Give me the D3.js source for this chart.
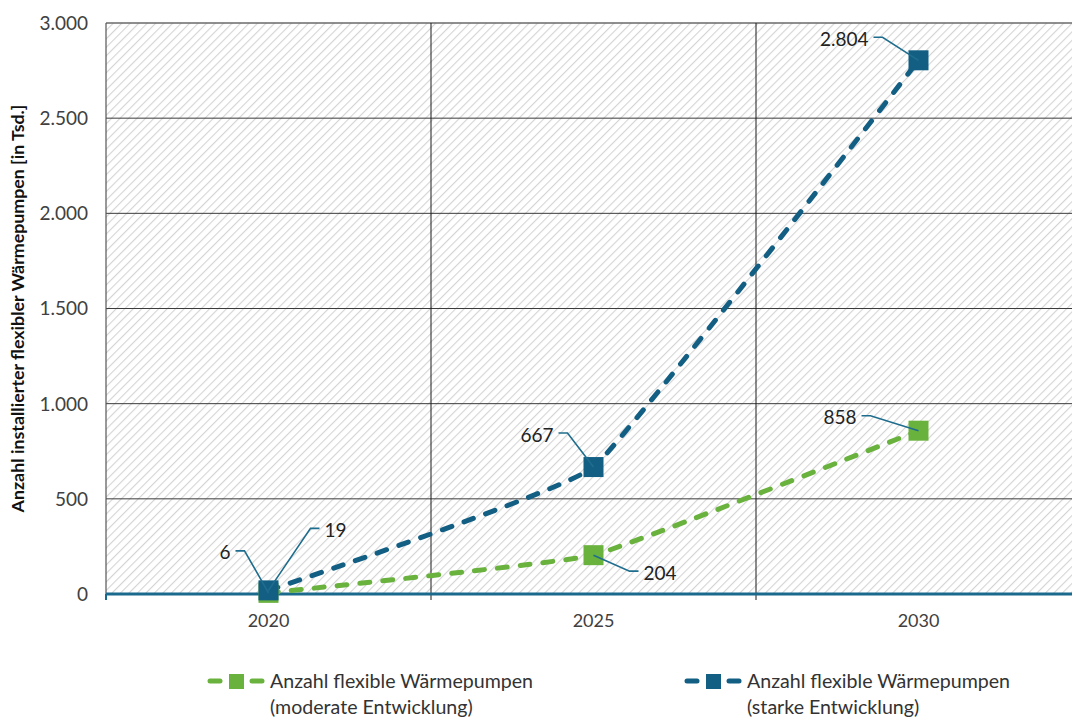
<!DOCTYPE html>
<html>
<head>
<meta charset="utf-8">
<script src="https://cdn.jsdelivr.net/npm/d3@7"></script>
<style>
  html, body { margin: 0; padding: 0; background: #fff; }
  svg { display: block; font-family: Lato, "Open Sans", sans-serif; }
</style>
</head>
<body>
<svg id="chart" width="1072" height="718"></svg>
<script>
// Jahre und Werte (in Tsd.)
const years = ["2020", "2025", "2030"];
const moderate = [6, 204, 858];
const starke = [19, 667, 2804];
const yTicks = [0, 500, 1000, 1500, 2000, 2500, 3000];
const seriesNames = [
  ["Anzahl flexible Wärmepumpen", "(moderate Entwicklung)"],
  ["Anzahl flexible Wärmepumpen", "(starke Entwicklung)"]
];
const yTitle = "Anzahl installierter flexibler Wärmepumpen [in Tsd.]";

const GREEN = "#6ab23e";
const BLUE = "#135f84";
const LEADER = "#1f6d8e";

const svg = d3.select("#chart");
const W = 1072, H = 718;
const m = { left: 106, top: 23, right: 1081, bottom: 594 };

const x = d3.scaleBand().domain(years).range([m.left, m.right]).padding(0);
const y = d3.scaleLinear().domain([0, 3000]).range([m.bottom, m.top]);
const cx = d => x(d) + x.bandwidth() / 2;

// Schraffierter Hintergrund des Diagrammbereichs
const defs = svg.append("defs");
const pat = defs.append("pattern")
  .attr("id", "hatch").attr("patternUnits", "userSpaceOnUse")
  .attr("width", 6).attr("height", 6)
  .attr("patternTransform", "rotate(45)");
pat.append("rect").attr("width", 6).attr("height", 6).attr("fill", "#fff");
pat.append("line").attr("x1", 0).attr("y1", 0).attr("x2", 0).attr("y2", 6)
  .attr("stroke", "#d4d4d4").attr("stroke-width", 2.2);

svg.append("rect")
  .attr("x", m.left).attr("y", m.top)
  .attr("width", W - m.left).attr("height", m.bottom - m.top)
  .attr("fill", "url(#hatch)");

// Horizontale Gitterlinien
svg.append("g").selectAll("line").data(yTicks.filter(t => t > 0)).join("line")
  .attr("x1", m.left).attr("x2", W)
  .attr("y1", d => y(d)).attr("y2", d => y(d))
  .attr("stroke", d => d === 3000 ? "#6a6a6a" : "#3c3c3c")
  .attr("stroke-width", d => d === 3000 ? 1.5 : 1);

// Vertikale Gitterlinien an den Kategoriegrenzen
const bounds = years.slice(1).map(yr => x(yr));
svg.append("g").selectAll("line").data(bounds).join("line")
  .attr("x1", d => d).attr("x2", d => d)
  .attr("y1", m.top).attr("y2", m.bottom + 6)
  .attr("stroke", "#1a1a1a").attr("stroke-width", 1);

// Linke Achsenlinie
svg.append("line")
  .attr("x1", m.left).attr("x2", m.left)
  .attr("y1", m.top).attr("y2", m.bottom)
  .attr("stroke", "#555").attr("stroke-width", 1.2);

// Y-Achse (Beschriftung)
const yAxis = d3.axisLeft(y).tickValues(yTicks).tickSize(0).tickPadding(0)
  .tickFormat(d => d3.format(",")(d).replace(/,/g, "."));
const yg = svg.append("g").attr("transform", `translate(${m.left - 18},0)`).call(yAxis);
yg.select(".domain").remove();
yg.selectAll("text").attr("font-size", 19).attr("fill", "#404040")
  .attr("font-family", "Lato, sans-serif").attr("dy", "0.34em");

// X-Achse
const xAxis = d3.axisBottom(x).tickSize(0).tickPadding(20);
const xg = svg.append("g").attr("transform", `translate(0,${m.bottom})`).call(xAxis);
xg.select(".domain").remove();
xg.selectAll("text").attr("font-size", 18).attr("fill", "#404040")
  .attr("font-family", "Lato, sans-serif");

// Nulllinie in Blau
svg.append("line")
  .attr("x1", m.left).attr("x2", W)
  .attr("y1", y(0)).attr("y2", y(0))
  .attr("stroke", "#1a6a8e").attr("stroke-width", 3);
svg.append("line")
  .attr("x1", m.left).attr("x2", m.left)
  .attr("y1", y(0)).attr("y2", y(0) + 6)
  .attr("stroke", "#1a6a8e").attr("stroke-width", 2);

// Y-Achsentitel
svg.append("text")
  .attr("transform", `translate(24,${(m.top + m.bottom) / 2}) rotate(-90)`)
  .attr("text-anchor", "middle")
  .attr("font-size", 17.8).attr("font-weight", "bold").attr("fill", "#111")
  .text(yTitle);

// Datenreihen
const series = [
  { values: moderate, color: GREEN },
  { values: starke, color: BLUE }
];
const line = d3.line()
  .x((d, i) => cx(years[i]))
  .y(d => y(d))
  .curve(d3.curveCardinal.tension(0.72));

series.forEach(s => {
  svg.append("path")
    .attr("d", line(s.values))
    .attr("fill", "none").attr("stroke", s.color)
    .attr("stroke-width", 5)
    .attr("stroke-dasharray", "10,13")
    .attr("stroke-linecap", "round");
});
series.forEach(s => {
  svg.append("g").selectAll("rect").data(s.values).join("rect")
    .attr("x", (d, i) => cx(years[i]) - 10)
    .attr("y", d => y(d) - 10)
    .attr("width", 20).attr("height", 20)
    .attr("fill", s.color);
});

// Datenbeschriftungen mit Führungslinien
// [Reihe, Index, Textversatz x, Textversatz y, Ausrichtung]
const labelLayout = [
  [0, 0, -38, -40, "end"],
  [1, 0, 56, -60, "start"],
  [1, 1, -40, -32, "end"],
  [0, 1, 50, 18, "start"],
  [1, 2, -50, -21, "end"],
  [0, 2, -62, -13, "end"]
];
const fmt = v => d3.format(",")(v).replace(/,/g, ".");
const lab = svg.append("g");
labelLayout.forEach(([si, i, dx, dy, anchor]) => {
  const v = series[si].values[i];
  const px = cx(years[i]), py = y(v);
  const tx = px + dx, ty = py + dy;
  const side = anchor === "end" ? 1 : -1;
  const hx0 = tx + side * 5, hx1 = tx + side * 14;
  lab.append("path")
    .attr("d", `M${hx0},${ty - 2}L${hx1},${ty - 2}L${px},${py}`)
    .attr("fill", "none").attr("stroke", LEADER).attr("stroke-width", 1.6);
  lab.append("text")
    .attr("x", tx).attr("y", ty).attr("dy", "0.34em")
    .attr("text-anchor", anchor)
    .attr("font-size", 19).attr("fill", "#222")
    .text(fmt(v));
});

// Legende
const legendX = [208, 685];
series.forEach((s, k) => {
  const g = svg.append("g").attr("transform", `translate(${legendX[k]},681)`);
  g.append("line").attr("x1", 2).attr("x2", 12).attr("y1", 0).attr("y2", 0)
    .attr("stroke", s.color).attr("stroke-width", 5).attr("stroke-linecap", "round");
  g.append("line").attr("x1", 44).attr("x2", 54).attr("y1", 0).attr("y2", 0)
    .attr("stroke", s.color).attr("stroke-width", 5).attr("stroke-linecap", "round");
  g.append("rect").attr("x", 21).attr("y", -7).attr("width", 15).attr("height", 15)
    .attr("fill", s.color);
  const t = g.append("text").attr("x", 62).attr("y", 0).attr("dy", "0.34em")
    .attr("font-size", 19.6).attr("fill", "#333");
  t.append("tspan").attr("x", 62).text(seriesNames[k][0]);
  t.append("tspan").attr("x", 62).attr("dy", 26).text(seriesNames[k][1]);
});
</script>
</body>
</html>
